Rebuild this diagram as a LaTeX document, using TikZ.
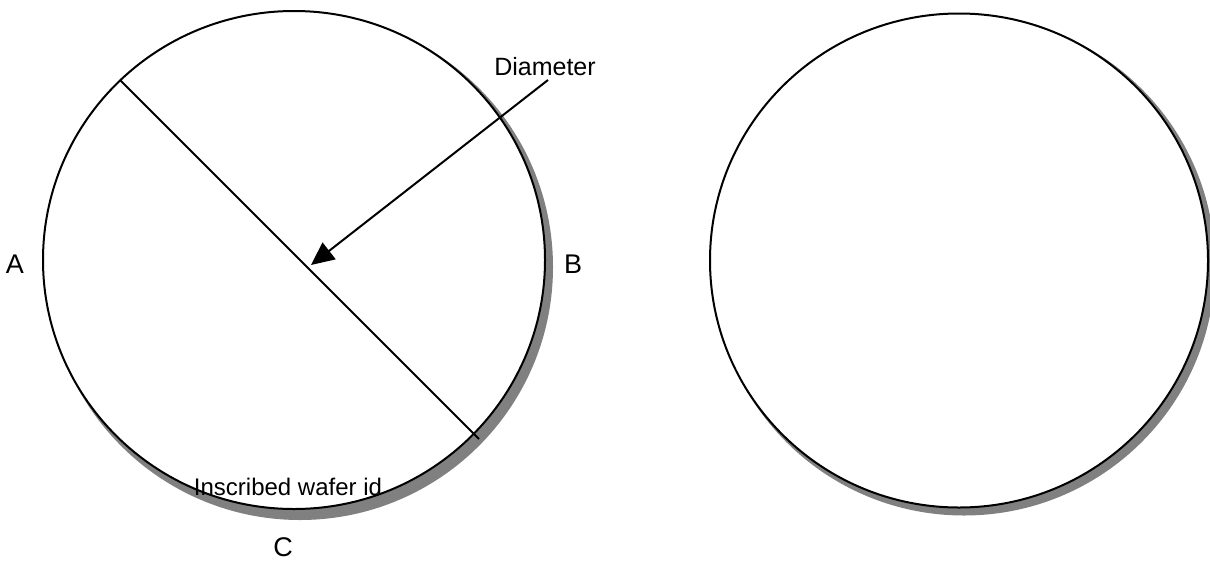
\documentclass[tikz,border=0pt]{standalone}
\usepackage{fontspec}
\setmainfont{Liberation Sans}
\usetikzlibrary{shapes.geometric,arrows.meta}
\begin{document}
\begin{tikzpicture}[x=1pt,y=-1pt,
  wafer/.style={ellipse,draw=black,line width=2pt,fill=white,inner sep=0pt},
  wshadow/.style={ellipse,draw=none,fill=black!50,inner sep=0pt},
  lbl/.style={inner sep=0pt,font=\fontsize{27}{32}\selectfont},
  txt/.style={inner sep=0pt,font=\fontsize{25}{30}\selectfont}]
\useasboundingbox[fill=white] (0,0) rectangle (1210,560);
% left wafer
\node[wshadow,minimum width=506pt,minimum height=506pt] (s1) at (300,267) {};
\node[wafer,minimum width=502pt,minimum height=498pt] (w1) at (294,260) {};
% right wafer
\node[wshadow,minimum width=502pt,minimum height=500pt] (s2) at (964,265.5) {};
\node[wafer,minimum width=498pt,minimum height=494pt] (w2) at (959,260.5) {};
% diameter line
\coordinate (d1) at (120,80);
\coordinate (d2) at (479,439);
\draw[line width=2pt] (d1) -- (d2);
% labels
\node[txt,anchor=base] (dia) at (545,75) {Diameter};
\coordinate (tip) at (311,265);
\coordinate (tail) at (548,80);
\draw[line width=2pt,-{Triangle[length=23pt,width=21pt]}] (tail) -- (tip);
\node[lbl] (A) at (15,264) {A};
\node[lbl] (B) at (573,264) {B};
\node[lbl] (C) at (283,547) {C};
\node[txt,anchor=base,font=\fontsize{24}{28}\selectfont] (id) at (288,495) {Inscribed wafer id};
\end{tikzpicture}
\end{document}
